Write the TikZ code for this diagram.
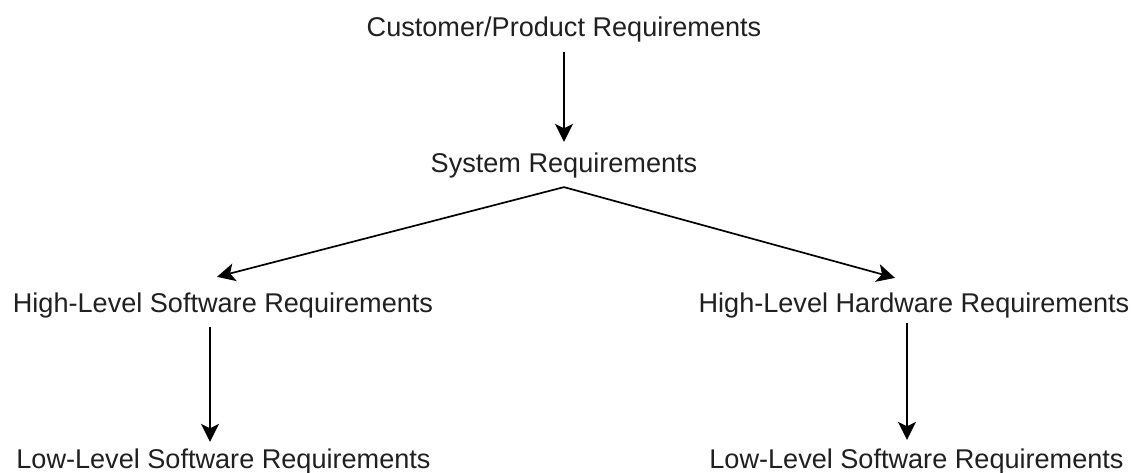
\documentclass[tikz,border=0pt]{standalone}
\usepackage{fontspec}
\setmainfont{Liberation Sans}
\usetikzlibrary{arrows.meta}
\definecolor{txt}{RGB}{32,32,32}
\begin{document}
\begin{tikzpicture}[x=1pt,y=-1pt,
  lbl/.style={anchor=base,inner sep=0pt,outer sep=0pt,text=txt,font=\fontsize{27.1}{30}\selectfont},
  conn/.style={line width=1.7pt,-{Stealth[length=18pt,width=18pt,inset=4.5pt]}}]
\useasboundingbox[fill=white] (0,0) rectangle (1135,473);
\node[lbl] (cust) at (564,37) {Customer/Product Requirements};
\node[lbl] (sys) at (564,173) {System Requirements};
\node[lbl] (hlsr) at (223,312) {High-Level Software Requirements};
\node[lbl] (hlhr) at (914,312) {High-Level Hardware Requirements};
\node[lbl] (llsr) at (223.5,468) {Low-Level Software Requirements};
\node[lbl] (llsr2) at (916.5,468) {Low-Level Software Requirements};
\draw[conn] ([yshift=-9pt]cust.south) -- ([yshift=11.5pt]sys.north);
\draw[conn] ([yshift=-8.5pt]sys.south) -- ([xshift=-6pt,yshift=15.5pt]hlsr.north);
\draw[conn] ([yshift=-8.5pt]sys.south) -- ([xshift=-19pt,yshift=14.5pt]hlhr.north);
\draw[conn] ([xshift=-13pt,yshift=-9.5pt]hlsr.south) -- ([xshift=-13.5pt,yshift=6.5pt]llsr.north);
\draw[conn] ([xshift=-7pt,yshift=-5.5pt]hlhr.south) -- ([xshift=-9.5pt,yshift=8.5pt]llsr2.north);
\end{tikzpicture}
\end{document}
